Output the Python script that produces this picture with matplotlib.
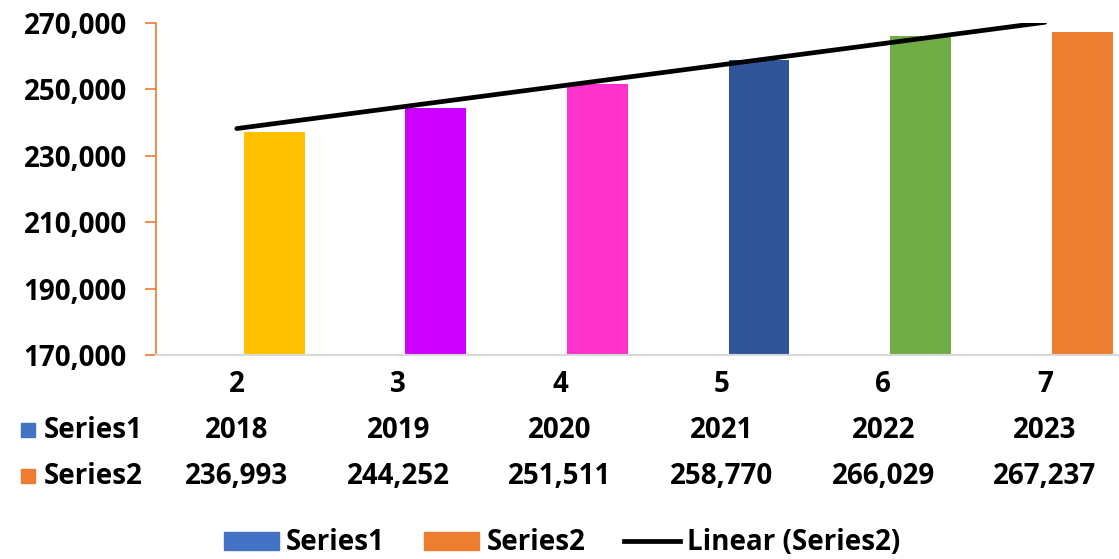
import numpy as np
import matplotlib
matplotlib.use("Agg")
from matplotlib import pyplot as plt
from matplotlib.patches import Patch, Rectangle
from matplotlib.lines import Line2D
from matplotlib.ticker import FuncFormatter
import matplotlib.transforms as mtransforms

plt.rcParams['font.family'] = ['Open Sans', 'DejaVu Sans']
plt.rcParams['font.weight'] = 'bold'

categories = ["2", "3", "4", "5", "6", "7"]
series1 = [2018, 2019, 2020, 2021, 2022, 2023]
series2 = [236993, 244252, 251511, 258770, 266029, 267237]
bar_colors = ["#FFC000", "#CC00FF", "#FF33CC", "#2F5597", "#70AD47", "#ED7D31"]
yticks = [170000, 190000, 210000, 230000, 250000, 270000]

FS = 20
S1_COLOR = "#4472C4"
S2_COLOR = "#ED7D31"

fig = plt.figure(figsize=(11.19, 5.59), dpi=100)
ax = fig.add_axes([156 / 1119, (559 - 355) / 559, 969.6 / 1119, (355 - 22.7) / 559])

x = np.arange(len(categories))
w = 0.377
# Series1 sits left of Series2 in each group (below the axis floor)
ax.bar(x + 0.043 - w / 2, series1, width=w, color=S1_COLOR)
ax.bar(x + 0.043 + w / 2, series2, width=w, color=bar_colors)

# linear trendline of Series2
k, b = np.polyfit(x + 1, series2, 1)
ax.plot([x[0], x[-1]], [k * 1 + b, k * 6 + b], color="black", lw=3.4,
        solid_capstyle="round")

ax.set_xlim(-0.5, 5.5)
ax.set_ylim(170000, 270000)
ax.set_yticks(yticks)
ax.yaxis.set_major_formatter(FuncFormatter(lambda v, p: f"{int(v):,}"))
ax.set_xticks(x)
ax.set_xticklabels(categories)

for s in ["top", "right"]:
    ax.spines[s].set_visible(False)
ax.spines["left"].set_color(S2_COLOR)
ax.spines["left"].set_linewidth(1.2)
ax.spines["bottom"].set_color("#D9D9D9")
ax.spines["bottom"].set_linewidth(1.5)
ax.tick_params(axis="y", colors=S2_COLOR, labelcolor="black", length=8,
               width=1.2, pad=13, labelsize=FS)
ax.tick_params(axis="x", length=0, pad=11, labelsize=FS)

# data table under the axis
trans = mtransforms.blended_transform_factory(ax.transData, fig.transFigure)
rows = [("Series1", series1, S1_COLOR, 430), ("Series2", series2, S2_COLOR, 476)]
for name, vals, col, ypx in rows:
    yf = (559 - ypx) / 559
    fig.patches.append(Rectangle((21 / 1119, yf - 7 / 559), 14 / 1119, 14 / 559,
                                 transform=fig.transFigure, color=col))
    fig.text(44 / 1119, yf, name, fontsize=FS, va="center", ha="left")
    for xi, v in zip(x, vals):
        label = f"{v:,}" if v > 10000 else str(v)
        ax.text(xi, yf, label, transform=trans, fontsize=FS,
                ha="center", va="center")

handles = [
    Patch(color=S1_COLOR, label="Series1"),
    Patch(color=S2_COLOR, label="Series2"),
    Line2D([], [], color="black", lw=3.4, label="Linear (Series2)"),
]
fig.legend(handles=handles, loc="center", bbox_to_anchor=(0.502, 16 / 559),
           ncol=3, frameon=False, fontsize=FS, handlelength=2.0,
           handletextpad=0.25, columnspacing=1.4, handleheight=0.6)

fig.savefig("out.png", dpi=100)
